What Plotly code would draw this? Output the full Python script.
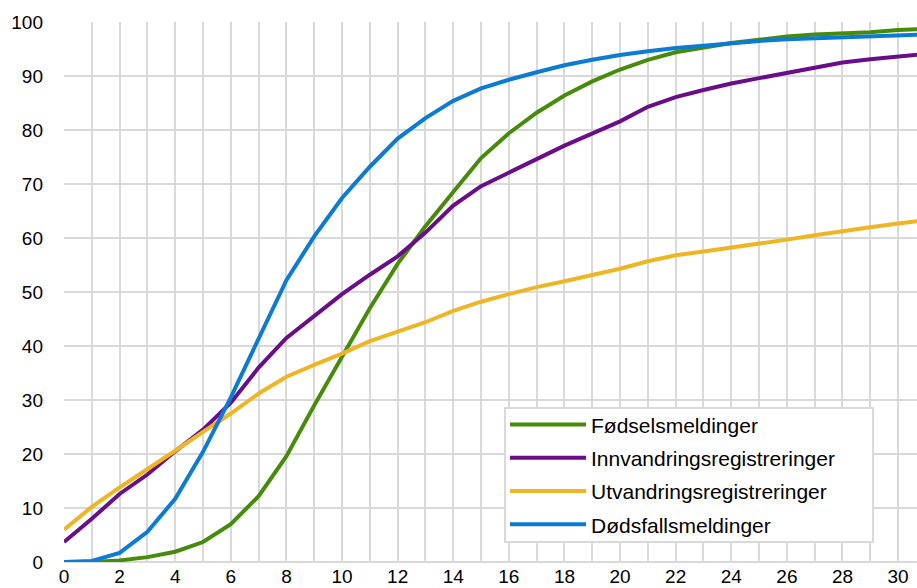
import plotly.graph_objects as go

days = list(range(0, 32))

fodsel = [0, 0, 0.3, 0.9, 1.9, 3.7, 7.0, 12.2, 19.6, 29.0, 38.0, 47.0, 55.2, 62.2, 68.5, 74.8,
          79.4, 83.2, 86.4, 89.0, 91.2, 93.0, 94.4, 95.3, 96.1, 96.7, 97.3, 97.7, 97.9, 98.1, 98.5, 98.7]
innvandring = [3.7, 8.0, 12.6, 16.2, 20.5, 24.5, 29.5, 36.0, 41.5, 45.6, 49.6, 53.2, 56.6, 61.0, 66.0, 69.6,
               72.0, 74.6, 77.1, 79.3, 81.6, 84.3, 86.1, 87.4, 88.6, 89.6, 90.6, 91.6, 92.5, 93.1, 93.6, 94.1]
utvandring = [6.0, 10.2, 13.8, 17.1, 20.6, 24.1, 27.5, 31.2, 34.3, 36.5, 38.6, 40.9, 42.6, 44.4, 46.5, 48.2,
              49.6, 50.9, 52.0, 53.1, 54.3, 55.7, 56.8, 57.5, 58.2, 59.0, 59.7, 60.5, 61.3, 62.0, 62.7, 63.3]
dodsfall = [0, 0.2, 1.7, 5.6, 11.7, 20.4, 30.5, 41.5, 52.2, 60.3, 67.4, 73.2, 78.4, 82.2, 85.4, 87.7,
            89.3, 90.7, 92.0, 93.0, 93.9, 94.6, 95.2, 95.6, 96.1, 96.5, 96.8, 97.0, 97.2, 97.4, 97.5, 97.7]

series = [
    ("Fødselsmeldinger", fodsel, "#468c0a"),
    ("Innvandringsregistreringer", innvandring, "#6a0d8a"),
    ("Utvandringsregistreringer", utvandring, "#efb524"),
    ("Dødsfallsmeldinger", dodsfall, "#0b7bd3"),
]

fig = go.Figure()
for i, (name, vals, color) in enumerate(series):
    fig.add_trace(go.Scatter(x=days, y=vals, name=name, mode="lines",
                             line=dict(color=color, width=4), legendgroup=f"g{i}"))

font = dict(family="Arial, Liberation Sans, sans-serif", size=19, color="#000000")
grid = "#d9d9d9"

# legend frame (wider than plotly's auto-sized legend box)
fig.add_shape(type="rect", xref="paper", yref="paper",
              x0=0.517, x1=0.9485, y0=0.037, y1=0.285,
              fillcolor="white", line=dict(color=grid, width=2), layer="above")

fig.update_layout(
    width=917, height=588,
    margin=dict(l=64, r=0, t=22, b=26),
    paper_bgcolor="white", plot_bgcolor="white",
    font=font,
    showlegend=True,
    legend=dict(x=0.517, y=0.292, xanchor="left", yanchor="top",
                bgcolor="rgba(0,0,0,0)", borderwidth=0,
                font=dict(family="Arial, Liberation Sans, sans-serif", size=21, color="#000000"),
                tracegroupgap=3, itemwidth=76),
    xaxis=dict(range=[0, 30.68], dtick=2, tick0=0, showgrid=True, gridcolor=grid, gridwidth=2,
               minor=dict(dtick=1, showgrid=True, gridcolor=grid, gridwidth=2),
               zeroline=False, showline=False, ticks="", ticklabelstandoff=1,
               automargin=False, fixedrange=True),
    yaxis=dict(range=[0, 100], dtick=10, showgrid=True, gridcolor=grid, gridwidth=2,
               zeroline=True, zerolinecolor=grid, zerolinewidth=2, showline=False,
               ticks="", ticklabelstandoff=20, automargin=False),
)

fig.write_html("out.html")
